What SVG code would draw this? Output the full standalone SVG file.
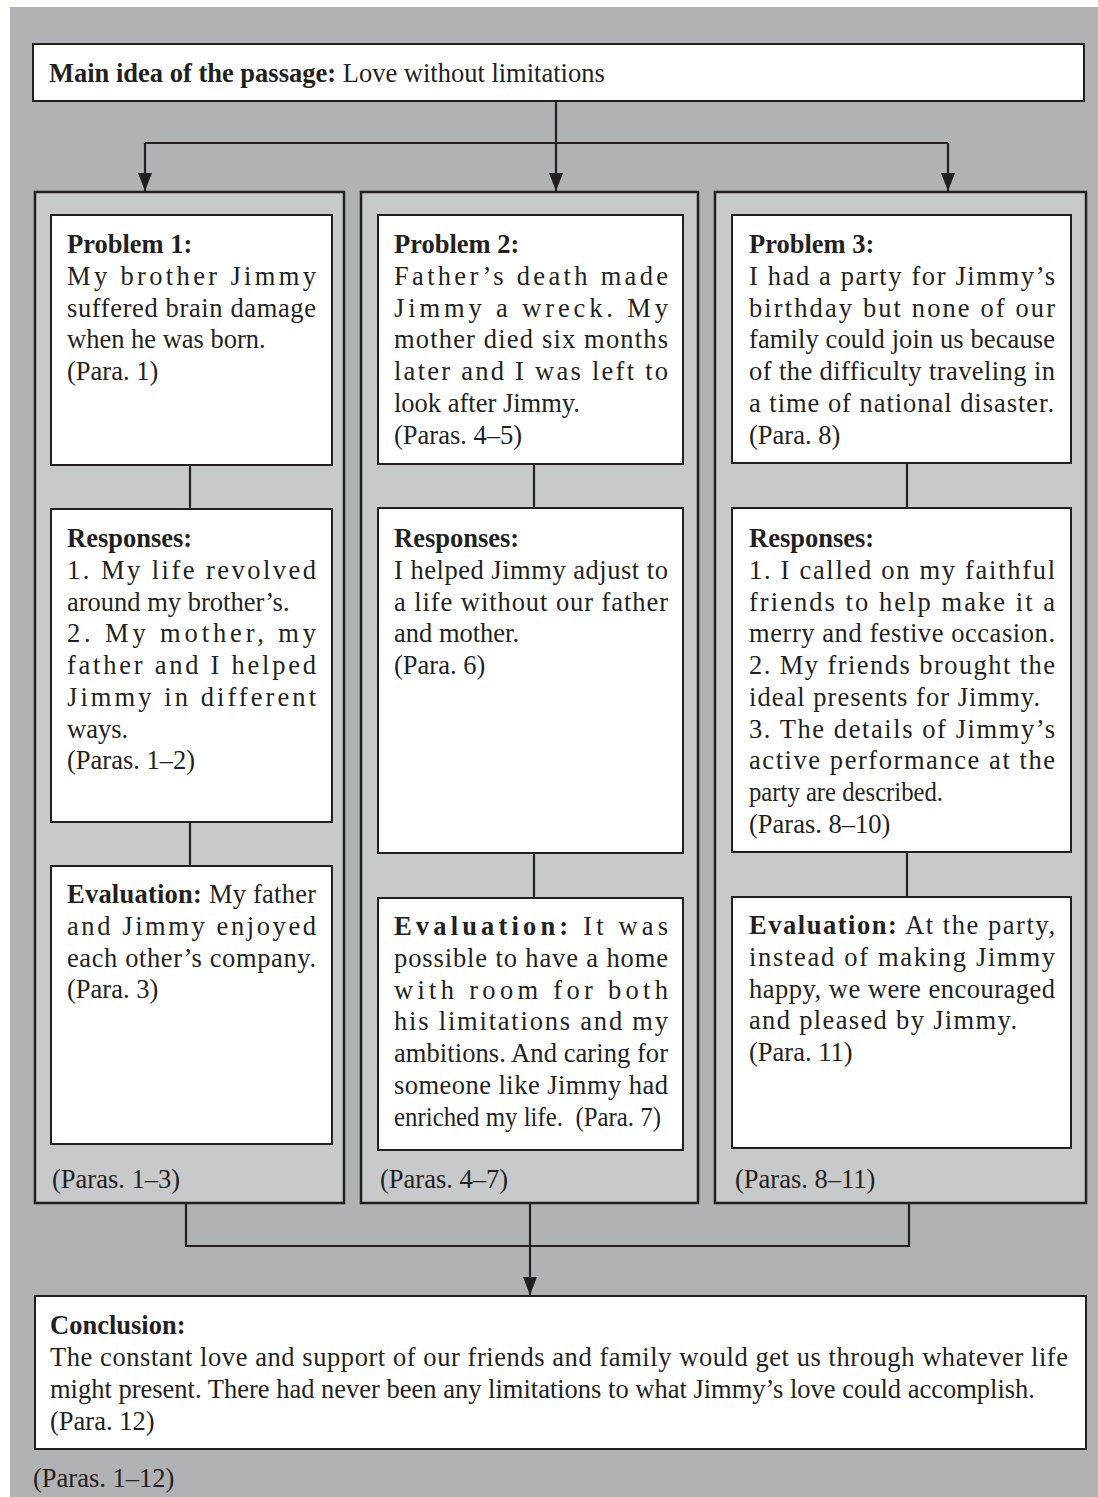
<svg xmlns="http://www.w3.org/2000/svg" width="1098" height="1497" viewBox="0 0 1098 1497">
<style>
.t{font-family:"Liberation Serif","Times New Roman",serif;font-size:26.5px;fill:#231f20}
.b{font-weight:bold}
.bg{fill:#b1b2b5}
.col{fill:#c8c9cb;stroke:#231f20;stroke-width:2.5}
.box{fill:#ffffff;stroke:#231f20;stroke-width:2}
.ln{stroke:#231f20;stroke-width:2.2;fill:none}
</style>
<defs>
<marker id="ah" markerUnits="userSpaceOnUse" markerWidth="14" markerHeight="18" refX="7" refY="18" orient="0" viewBox="0 0 14 18">
<path d="M0,0 L14,0 L7,18 Z" fill="#231f20"/>
</marker>
</defs>
<rect class="bg" x="10" y="7" width="1088" height="1490"/>

<g id="main">
<rect class="box" x="33" y="44" width="1051" height="57"/>
<text class="t" x="49" y="82"><tspan class="b">Main idea of the passage:</tspan> Love without limitations</text>
</g>

<g id="column1">
<rect class="col" x="35" y="192" width="309" height="1011"/>
<text class="t" x="52" y="1188">(Paras. 1–3)</text>
</g>
<g id="column2">
<rect class="col" x="361" y="192" width="337" height="1011"/>
<text class="t" x="380" y="1188">(Paras. 4–7)</text>
</g>
<g id="column3">
<rect class="col" x="715" y="192" width="371" height="1011"/>
<text class="t" x="735" y="1188">(Paras. 8–11)</text>
</g>

<g id="connectors">
<path class="ln" d="M556,101 V143 M145,143 H948"/>
<path class="ln" d="M145,143 V191" marker-end="url(#ah)"/>
<path class="ln" d="M556,143 V191" marker-end="url(#ah)"/>
<path class="ln" d="M948,143 V191" marker-end="url(#ah)"/>
<path class="ln" d="M190,465 V509 M190,822 V866"/>
<path class="ln" d="M534,464 V508 M534,853 V898"/>
<path class="ln" d="M907,463 V508 M907,852 V897"/>
<path class="ln" d="M186,1203 V1246 H909 V1203"/>
<path class="ln" d="M530,1203 V1295" marker-end="url(#ah)"/>
</g>

<g id="problem1">
<rect class="box" x="51" y="215" width="281" height="250"/>
<text class="t b" x="67" y="253">Problem 1:</text>
<text class="t" x="67" y="284.75" textLength="249" lengthAdjust="spacing">My brother Jimmy</text>
<text class="t" x="67" y="316.5" textLength="249" lengthAdjust="spacing">suffered brain damage</text>
<text class="t" x="67" y="348.25">when he was born.</text>
<text class="t" x="67" y="380">(Para. 1)</text>
</g>
<g id="responses1">
<rect class="box" x="51" y="509" width="281" height="313"/>
<text class="t b" x="67" y="547">Responses:</text>
<text class="t" x="67" y="578.75" textLength="249" lengthAdjust="spacing">1. My life revolved</text>
<text class="t" x="67" y="610.5">around my brother’s.</text>
<text class="t" x="67" y="642.25" textLength="249" lengthAdjust="spacing">2. My mother, my</text>
<text class="t" x="67" y="674" textLength="249" lengthAdjust="spacing">father and I helped</text>
<text class="t" x="67" y="705.75" textLength="249" lengthAdjust="spacing">Jimmy in different</text>
<text class="t" x="67" y="737.5">ways.</text>
<text class="t" x="67" y="769.25">(Paras. 1–2)</text>
</g>
<g id="evaluation1">
<rect class="box" x="51" y="866" width="281" height="278"/>
<text class="t" x="67" y="903" textLength="249" lengthAdjust="spacing"><tspan class="b">Evaluation:</tspan> My father</text>
<text class="t" x="67" y="934.75" textLength="249" lengthAdjust="spacing">and Jimmy enjoyed</text>
<text class="t" x="67" y="966.5" textLength="249" lengthAdjust="spacing">each other’s company.</text>
<text class="t" x="67" y="998.25">(Para. 3)</text>
</g>

<g id="problem2">
<rect class="box" x="378" y="215" width="305" height="249"/>
<text class="t b" x="394" y="253">Problem 2:</text>
<text class="t" x="394" y="284.75" textLength="274" lengthAdjust="spacing">Father’s death made</text>
<text class="t" x="394" y="316.5" textLength="274" lengthAdjust="spacing">Jimmy a wreck. My</text>
<text class="t" x="394" y="348.25" textLength="274" lengthAdjust="spacing">mother died six months</text>
<text class="t" x="394" y="380" textLength="274" lengthAdjust="spacing">later and I was left to</text>
<text class="t" x="394" y="411.75">look after Jimmy.</text>
<text class="t" x="394" y="443.5">(Paras. 4–5)</text>
</g>
<g id="responses2">
<rect class="box" x="378" y="508" width="305" height="345"/>
<text class="t b" x="394" y="547">Responses:</text>
<text class="t" x="394" y="578.75" textLength="274" lengthAdjust="spacing">I helped Jimmy adjust to</text>
<text class="t" x="394" y="610.5" textLength="274" lengthAdjust="spacing">a life without our father</text>
<text class="t" x="394" y="642.25">and mother.</text>
<text class="t" x="394" y="674">(Para. 6)</text>
</g>
<g id="evaluation2">
<rect class="box" x="378" y="898" width="305" height="252"/>
<text class="t" x="394" y="935" textLength="274" lengthAdjust="spacing"><tspan class="b">Evaluation:</tspan> It was</text>
<text class="t" x="394" y="966.75" textLength="274" lengthAdjust="spacing">possible to have a home</text>
<text class="t" x="394" y="998.5" textLength="274" lengthAdjust="spacing">with room for both</text>
<text class="t" x="394" y="1030.25" textLength="274" lengthAdjust="spacing">his limitations and my</text>
<text class="t" x="394" y="1062" textLength="274" lengthAdjust="spacing">ambitions. And caring for</text>
<text class="t" x="394" y="1093.75" textLength="274" lengthAdjust="spacing">someone like Jimmy had</text>
<text class="t" x="394" y="1125.5" style="white-space:pre" textLength="267" lengthAdjust="spacingAndGlyphs">enriched my life.  (Para. 7)</text>
</g>

<g id="problem3">
<rect class="box" x="732" y="215" width="339" height="248"/>
<text class="t b" x="749" y="253">Problem 3:</text>
<text class="t" x="749" y="284.75" textLength="306" lengthAdjust="spacing">I had a party for Jimmy’s</text>
<text class="t" x="749" y="316.5" textLength="306" lengthAdjust="spacing">birthday but none of our</text>
<text class="t" x="749" y="348.25" textLength="306" lengthAdjust="spacing">family could join us because</text>
<text class="t" x="749" y="380" textLength="306" lengthAdjust="spacing">of the difficulty traveling in</text>
<text class="t" x="749" y="411.75" textLength="305" lengthAdjust="spacing">a time of national disaster.</text>
<text class="t" x="749" y="443.5">(Para. 8)</text>
</g>
<g id="responses3">
<rect class="box" x="732" y="508" width="339" height="344"/>
<text class="t b" x="749" y="547">Responses:</text>
<text class="t" x="749" y="578.75" textLength="306" lengthAdjust="spacing">1. I called on my faithful</text>
<text class="t" x="749" y="610.5" textLength="306" lengthAdjust="spacing">friends to help make it a</text>
<text class="t" x="749" y="642.25" textLength="306" lengthAdjust="spacing">merry and festive occasion.</text>
<text class="t" x="749" y="674" textLength="306" lengthAdjust="spacing">2. My friends brought the</text>
<text class="t" x="749" y="705.75" textLength="291" lengthAdjust="spacing">ideal presents for Jimmy.</text>
<text class="t" x="749" y="737.5" textLength="306" lengthAdjust="spacing">3. The details of Jimmy’s</text>
<text class="t" x="749" y="769.25" textLength="306" lengthAdjust="spacing">active performance at the</text>
<text class="t" x="749" y="801" textLength="194" lengthAdjust="spacingAndGlyphs">party are described.</text>
<text class="t" x="749" y="832.75">(Paras. 8–10)</text>
</g>
<g id="evaluation3">
<rect class="box" x="732" y="897" width="339" height="251"/>
<text class="t" x="749" y="934" textLength="306" lengthAdjust="spacing"><tspan class="b">Evaluation:</tspan> At the party,</text>
<text class="t" x="749" y="965.75" textLength="306" lengthAdjust="spacing">instead of making Jimmy</text>
<text class="t" x="749" y="997.5" textLength="306" lengthAdjust="spacing">happy, we were encouraged</text>
<text class="t" x="749" y="1029.25" textLength="268" lengthAdjust="spacing">and pleased by Jimmy.</text>
<text class="t" x="749" y="1061">(Para. 11)</text>
</g>

<g id="conclusion">
<rect class="box" x="35" y="1296" width="1051" height="153"/>
<text class="t b" x="50" y="1334">Conclusion:</text>
<text class="t" x="50" y="1366" textLength="1018" lengthAdjust="spacing">The constant love and support of our friends and family would get us through whatever life</text>
<text class="t" x="50" y="1398">might present. There had never been any limitations to what Jimmy’s love could accomplish.</text>
<text class="t" x="50" y="1430">(Para. 12)</text>
</g>

<g id="footer">
<text class="t" x="33" y="1487">(Paras. 1–12)</text>
</g>
</svg>
